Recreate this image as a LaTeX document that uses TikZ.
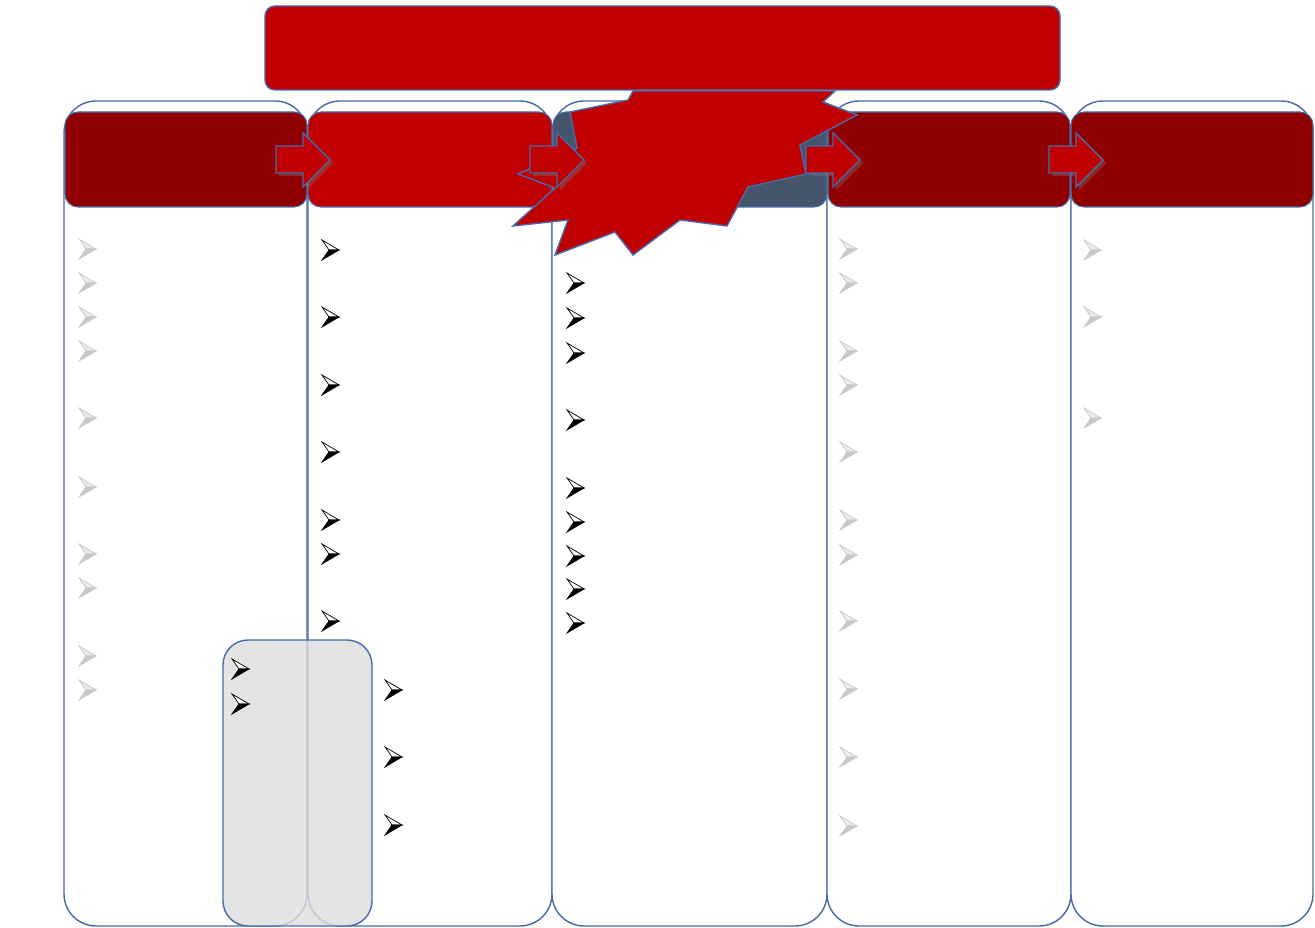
\documentclass[tikz,border=0pt]{standalone}
\usetikzlibrary{shadows}
\definecolor{titlered}{RGB}{192, 0, 0}
\definecolor{headred}{RGB}{144, 0, 0}
\definecolor{slate}{RGB}{68, 84, 106}
\definecolor{lineblue}{RGB}{72, 106, 170}
\definecolor{bulletgray}{RGB}{200, 200, 200}
\definecolor{bulletlight}{RGB}{236, 236, 236}
\definecolor{panelgray}{RGB}{222, 222, 222}

\begin{document}
\begin{tikzpicture}[x=0.02cm, y=-0.02cm,
    colbox/.style={draw=lineblue, line width=0.8pt, fill=white, rounded corners=0.64cm},
    headbox/.style={draw=lineblue, line width=0.6pt, rounded corners=0.26cm},
    burst/.style={draw=lineblue, line width=0.8pt, fill=titlered, line join=miter},
    redarrow/.style={draw=lineblue, line width=0.8pt, fill=titlered,
      drop shadow={shadow xshift=1.8pt, shadow yshift=-1.8pt, opacity=0.35}},
    blackdart/.pic={
      \draw[black, line width=0.4pt, fill=white, line join=miter]
        (-8,-10) -- (9,0) -- (-1,0) -- cycle;
      \draw[black, line width=0.4pt, fill=black, line join=miter]
        (-1,0) -- (9,0) -- (-8,10) -- cycle;
    },
    graydart/.pic={
      \draw[bulletgray, line width=0.4pt, fill=bulletlight, line join=miter]
        (-8,-10) -- (9,0) -- (-1,0) -- cycle;
      \draw[bulletgray, line width=0.4pt, fill=bulletgray, line join=miter]
        (-1,0) -- (9,0) -- (-8,10) -- cycle;
    }]
  \useasboundingbox (0,0) rectangle (1315,928);

  % columns
  \draw[colbox] (64,101) rectangle (307,926);
  \draw[colbox] (308,101) rectangle (552,926);
  \draw[colbox] (552,101) rectangle (827,926);
  \draw[colbox] (827,101) rectangle (1071,926);
  \draw[colbox] (1071,101) rectangle (1313,926);

  % column heads
  \draw[headbox, fill=headred] (65,112) rectangle (307,207);
  \draw[headbox, fill=titlered] (308,112) rectangle (552,207);
  \draw[headbox, fill=slate] (553,112) rectangle (827,207);
  \draw[headbox, fill=headred] (828,112) rectangle (1070,207);
  \draw[headbox, fill=headred] (1071,112) rectangle (1313,207);

  % the burst
  \draw[burst] (633,91) -- (628,100) -- (570,112) -- (577,148) -- (518,174)
    -- (555,188) -- (513,226) -- (568,220) -- (555,255) -- (615,232)
    -- (633,255) -- (680,220) -- (727,226) -- (748,187) -- (806,174)
    -- (800,145) -- (857,115) -- (823,102) -- (835,91) -- cycle;

  % title bar
  \draw[draw=lineblue, line width=0.8pt, fill=titlered, rounded corners=0.2cm]
    (265,6) rectangle (1060,90);

  % arrows between heads
  \foreach \ax in {276,530,806,1049}
    \draw[redarrow] (\ax,146) -- ++(27,0) -- ++(0,-13) -- ++(27,27)
      -- ++(-27,27) -- ++(0,-14) -- ++(-27,0) -- cycle;

  % grey panel
  \draw[draw=lineblue, line width=0.8pt, fill=panelgray, fill opacity=0.8,
    rounded corners=0.5cm] (223,640) rectangle (372,926);

  % bullets
  \foreach \y [count=\i] in {249,283,317,351,418,487,554,588,656,690}
    \pic (ca\i) at (87,\y) {graydart};
  \foreach \y [count=\i] in {250,317,385,452,520,554,621}
    \pic (cb\i) at (330,\y) {blackdart};
  \foreach \y [count=\i] in {690,757,825}
    \pic (cl\i) at (393,\y) {blackdart};
  \foreach \y [count=\i] in {669,704}
    \pic (cg\i) at (240,\y) {blackdart};
  \foreach \y [count=\i] in {283,318,353,420,488,522,556,589,623}
    \pic (cc\i) at (575,\y) {blackdart};
  \foreach \y [count=\i] in {249,283,351,385,452,520,555,621,689,757,826}
    \pic (cd\i) at (848,\y) {graydart};
  \foreach \y [count=\i] in {250,317,418}
    \pic (ce\i) at (1092,\y) {graydart};
\end{tikzpicture}
\end{document}
